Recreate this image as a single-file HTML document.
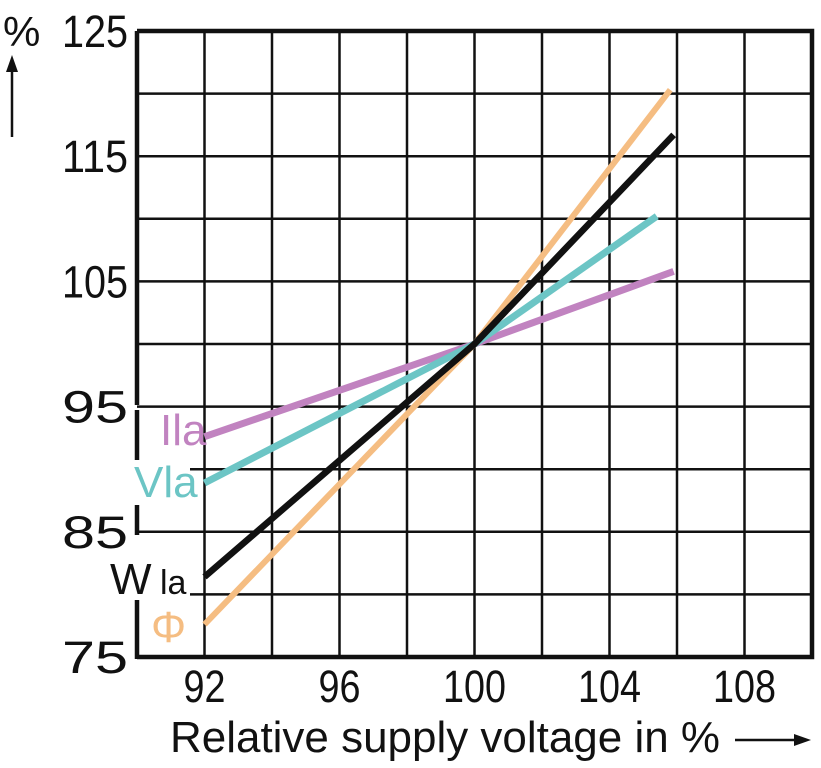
<!DOCTYPE html>
<html><head><meta charset="utf-8"><style>
body{margin:0;background:#fff}
svg{display:block;font-family:"Liberation Sans",sans-serif}
</style></head><body>
<svg id="c" width="821" height="768">
<g id="grid"></g>
<g id="series"></g>
<g id="labels"></g>
</svg>
<script>
const xTicks=[92,96,100,104,108];
const yTicks=[75,85,95,105,115,125];
const seriesNames=["Ila","Vla","Wla","Phi"];
const ilaX=[92,100,105.9]; const ilaY=[92.6,100,105.8];
const vlaX=[92,100,105.4]; const vlaY=[88.9,100,110.2];
const wlaX=[92,100,105.9]; const wlaY=[81.4,100,116.7];
const phiX=[92,100,105.8]; const phiY=[77.6,100,120.3];
const NS="http://www.w3.org/2000/svg";
const L=137,R=812,T=31,B=657,xmin=90,xmax=110,ymin=75,ymax=125;
const sx=v=>L+(v-xmin)/(xmax-xmin)*(R-L);
const sy=v=>B-(v-ymin)/(ymax-ymin)*(B-T);
function mk(tag,attrs,parent){const e=document.createElementNS(NS,tag);for(const k in attrs)e.setAttribute(k,attrs[k]);parent.appendChild(e);return e;}
const g=document.getElementById('grid'),s=document.getElementById('series'),lb=document.getElementById('labels');
for(let v=92;v<110;v+=2){const l=mk('line',{x1:sx(v),x2:sx(v),y1:T,y2:B,stroke:'#111','stroke-width':2.5},g);

}
for(let v=80;v<125;v+=5){const x0=(v===90||v===80)?190:L;const l=mk('line',{x1:x0,x2:R,y1:sy(v),y2:sy(v),stroke:'#111','stroke-width':2.5},g);

}
const fr=mk('path',{d:`M${L},${T}H${R}V${B}H${L}`,fill:'none',stroke:'#111','stroke-width':4.5},g);


[[T,405],[410,460],[505,535],[600,B+2]].forEach(([a,b])=>{const l=mk('line',{x1:L,x2:L,y1:a,y2:b,stroke:'#111','stroke-width':4.5},g);

});
const cols=["#c183c0","#6cc5c5","#111","#f5bd82"];
const widths=[7,7,6.5,6];
[[ilaX,ilaY],[vlaX,vlaY],[wlaX,wlaY],[phiX,phiY]].forEach(([xs,ys],i)=>{
const p=mk('polyline',{points:xs.map((x,j)=>sx(x)+','+sy(ys[j])).join(' '),fill:'none',stroke:cols[i],'stroke-width':widths[i]},s);

});
s.appendChild(s.children[2]);
yTicks.forEach(v=>{const t=mk('text',{x:128,y:sy(v)+16,'text-anchor':'end','font-size':45,fill:'#111',textLength:66,lengthAdjust:'spacingAndGlyphs'},lb);t.textContent=v;

});
xTicks.forEach(v=>{const w=String(v).length*21;const t=mk('text',{x:sx(v),y:702,'text-anchor':'middle','font-size':45,fill:'#111',textLength:w,lengthAdjust:'spacingAndGlyphs'},lb);t.textContent=v;

});
</script>
<div style="position:absolute;left:0;top:0">
<svg width="821" height="768">
<text x="3" y="46" font-size="42" fill="#111">%</text>
<line x1="12" y1="137" x2="12" y2="70" stroke="#111" stroke-width="2.5"/>
<polygon points="12,55 6,72 18,72" fill="#111"/>
<text x="170" y="752" font-size="44" fill="#111" textLength="550" lengthAdjust="spacingAndGlyphs">Relative supply voltage in %</text>
<line x1="735" y1="740" x2="795" y2="740" stroke="#111" stroke-width="2.5"/>
<polygon points="811,740 794,734 794,746" fill="#111"/>
<text x="160" y="445" font-size="44" fill="#c183c0">Ila</text>
<text x="134" y="497" font-size="44" fill="#6cc5c5">Vla</text>
<text x="110" y="594" font-size="44" fill="#111">W</text>
<text x="160" y="594" font-size="34" fill="#111">la</text>
<text x="151" y="642" font-size="44" fill="#f5bd82">Φ</text>
</svg></div>
</body></html>
